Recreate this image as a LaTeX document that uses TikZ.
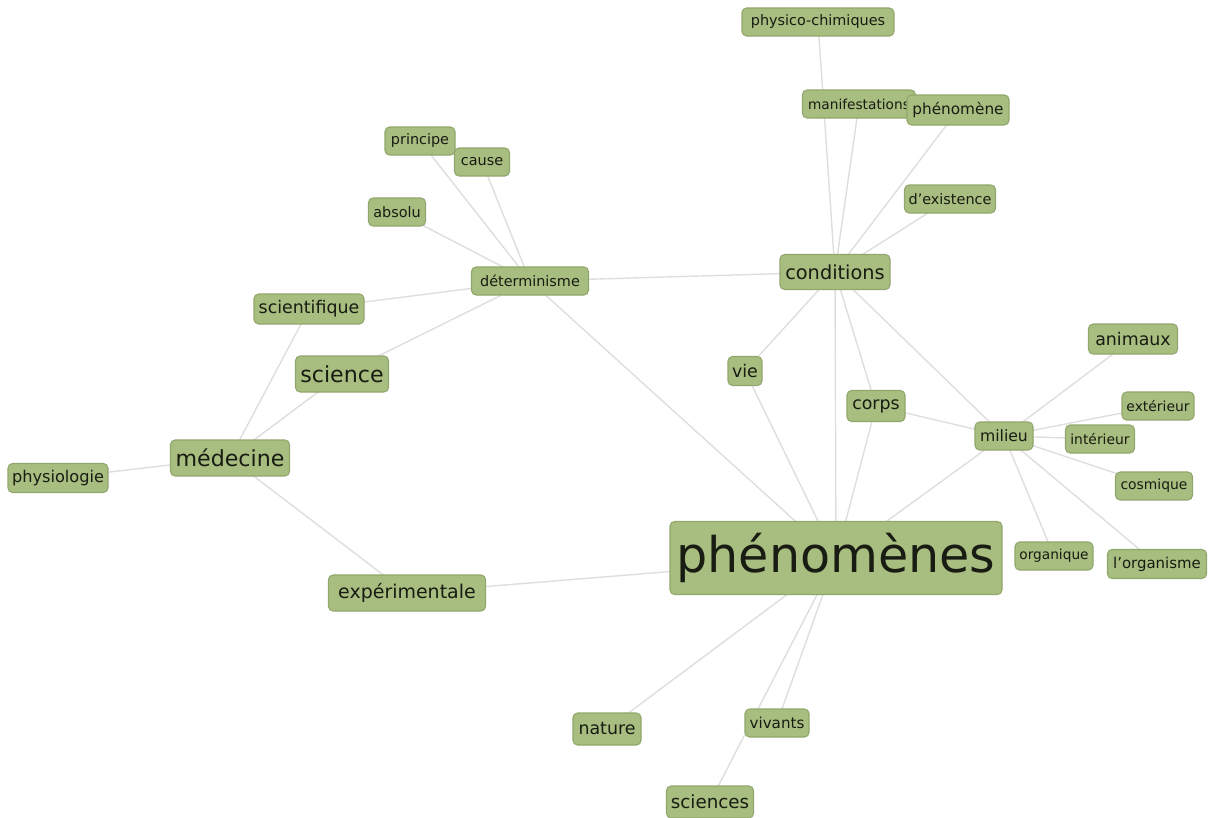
\documentclass[tikz,border=0pt]{standalone}
\usepackage{fontspec}
\setmainfont{DejaVu Sans}
\usetikzlibrary{backgrounds}
\definecolor{leaf}{RGB}{168,189,128}
\definecolor{leafrim}{RGB}{145,166,106}
\definecolor{ink}{RGB}{24,28,18}
\definecolor{linkgray}{RGB}{222,222,222}
\tikzset{
  word/.style={draw=leafrim, fill=leaf, text=ink, rounded corners=2.6pt, line width=0.6pt, inner sep=0pt},
  boxed/.style 2 args={minimum width=#1*0.02cm, minimum height=#2*0.02cm},
  wsmall/.style={word, font=\fontsize{8.2}{9}\selectfont},
  wmed/.style={word, font=\fontsize{9.9}{11}\selectfont},
  wbig/.style={word, font=\fontsize{12.6}{14}\selectfont},
  whuge/.style={word, font=\fontsize{28}{30}\selectfont},
  link/.style={draw=linkgray, line width=0.8pt}
}

\begin{document}
\begin{tikzpicture}[x=0.02cm, y=-0.02cm]
			%%%%% START %%%%%
			\useasboundingbox (0, 0) rectangle (1208, 818);
			
			% central word
			\node[whuge, boxed={332}{73}] (phen) at (836, 558) {phénomènes};
			
			% conditions and its cluster
			\node[wbig, boxed={110}{35}, font=\fontsize{11}{12}\selectfont] (cond) at (835, 272) {conditions};
			\node[wsmall, boxed={152}{28}] (physico) at (818, 22) {physico-chimiques};
			\node[wsmall, boxed={113}{28}, font=\fontsize{7.8}{9}\selectfont] (manif) at (859, 104) {manifestations};
			\node[wsmall, boxed={102}{30}, font=\fontsize{8.7}{10}\selectfont] (phene) at (958, 110) {phénomène};
			\node[wsmall, boxed={91}{28}] (exist) at (950, 199) {d’existence};
			
			% determinisme cluster
			\node[wsmall, boxed={117}{28}] (determ) at (530, 281) {déterminisme};
			\node[wsmall, boxed={70}{28}] (princ) at (420, 141) {principe};
			\node[wsmall, boxed={55}{28}] (cause) at (482, 162) {cause};
			\node[wsmall, boxed={57}{28}] (absolu) at (397, 212) {absolu};
			\node[wmed, boxed={110}{30}] (scient) at (309, 309) {scientifique};
			\node[wbig, boxed={93}{36}] (science) at (342, 374) {science};
			
			% medecine cluster
			\node[wbig, boxed={119}{36}] (medec) at (230, 458) {médecine};
			\node[wmed, boxed={100}{29}, font=\fontsize{9.2}{10}\selectfont] (physio) at (58, 478) {physiologie};
			\node[wbig, boxed={157}{36}, font=\fontsize{10.8}{12}\selectfont] (exper) at (407, 593) {expérimentale};
			
			% milieu cluster
			\node[wmed, boxed={34}{29}] (vie) at (745, 371) {vie};
			\node[wmed, boxed={58}{31}] (corps) at (876, 406) {corps};
			\node[wsmall, boxed={58}{28}, font=\fontsize{8.9}{10}\selectfont] (milieu) at (1004, 436) {milieu};
			\node[wmed, boxed={89}{30}] (anim) at (1133, 339) {animaux};
			\node[wsmall, boxed={72}{28}, font=\fontsize{7.9}{9}\selectfont] (exter) at (1158, 406) {extérieur};
			\node[wsmall, boxed={69}{28}, font=\fontsize{7.9}{9}\selectfont] (inter) at (1100, 439) {intérieur};
			\node[wsmall, boxed={77}{28}, font=\fontsize{7.9}{9}\selectfont] (cosm) at (1154, 486) {cosmique};
			\node[wsmall, boxed={78}{28}, font=\fontsize{7.8}{9}\selectfont] (organ) at (1054, 556) {organique};
			\node[wsmall, boxed={99}{29}, font=\fontsize{8.5}{10}\selectfont] (orgme) at (1157, 564) {l’organisme};
			
			% lower words
			\node[wmed, boxed={68}{32}] (nature) at (607, 729) {nature};
			\node[wsmall, boxed={64}{28}, font=\fontsize{8.6}{10}\selectfont] (vivants) at (777, 723) {vivants};
			\node[wmed, boxed={87}{32}, font=\fontsize{10.4}{12}\selectfont] (sciences) at (710, 802) {sciences};
			
			\begin{scope}[on background layer]
			\draw[link] (phen.center) -- (cond.center);
			\draw[link] (phen.center) -- (determ.center);
			\draw[link] (phen.center) -- (exper.center);
			\draw[link] (phen.center) -- (vie.center);
			\draw[link] (phen.center) -- (corps.center);
			\draw[link] (phen.center) -- (milieu.center);
			\draw[link] (phen.center) -- (nature.center);
			\draw[link] (phen.center) -- (vivants.center);
			\draw[link] (phen.center) -- (sciences.center);
			
			\draw[link] (cond.center) -- (physico.center);
			\draw[link] (cond.center) -- (manif.center);
			\draw[link] (cond.center) -- (phene.center);
			\draw[link] (cond.center) -- (exist.center);
			\draw[link] (cond.center) -- (determ.center);
			\draw[link] (cond.center) -- (vie.center);
			\draw[link] (cond.center) -- (corps.center);
			\draw[link] (cond.center) -- (milieu.center);
			
			\draw[link] (determ.center) -- (princ.center);
			\draw[link] (determ.center) -- (cause.center);
			\draw[link] (determ.center) -- (absolu.center);
			\draw[link] (determ.center) -- (scient.center);
			\draw[link] (determ.center) -- (science.center);
			
			\draw[link] (medec.center) -- (scient.center);
			\draw[link] (medec.center) -- (science.center);
			\draw[link] (medec.center) -- (physio.center);
			\draw[link] (medec.center) -- (exper.center);
			
			\draw[link] (milieu.center) -- (corps.center);
			\draw[link] (milieu.center) -- (anim.center);
			\draw[link] (milieu.center) -- (exter.center);
			\draw[link] (milieu.center) -- (inter.center);
			\draw[link] (milieu.center) -- (cosm.center);
			\draw[link] (milieu.center) -- (organ.center);
			\draw[link] (milieu.center) -- (orgme.center);
			\end{scope}
			%%%%% END %%%%%
\end{tikzpicture}
\end{document}
